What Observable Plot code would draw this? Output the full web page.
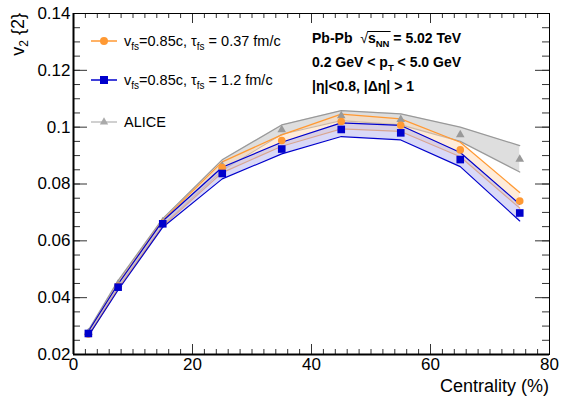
<!DOCTYPE html>
<html><head><meta charset="utf-8">
<script src="https://cdn.jsdelivr.net/npm/d3@7"></script>
<script src="https://cdn.jsdelivr.net/npm/@observablehq/plot@0.6"></script>
<style>body{margin:0;background:#fff} svg{display:block}</style>
</head><body><div id="chart"></div>
<script>
const centrality = [2.5, 7.5, 15, 25, 35, 45, 55, 65, 75];
const alice     = [0.0277, 0.0448, 0.0667, 0.0863, 0.0991, 0.1040, 0.1027, 0.0973, 0.0887];
const aliceLow  = [0.0270, 0.0438, 0.0656, 0.0848, 0.0975, 0.1023, 0.1008, 0.0950, 0.0842];
const aliceHigh = [0.0285, 0.0460, 0.0678, 0.0885, 0.1008, 0.1058, 0.1047, 0.1000, 0.0935];
const tau037     = [0.0272, 0.0440, 0.0662, 0.0858, 0.0953, 0.1020, 0.1007, 0.0920, 0.0740];
const tau037Low  = [0.0265, 0.0432, 0.0652, 0.0840, 0.0933, 0.0994, 0.0985, 0.0896, 0.0715];
const tau037High = [0.0279, 0.0450, 0.0672, 0.0878, 0.0973, 0.1046, 0.1029, 0.0947, 0.0770];
const tau12     = [0.0274, 0.0437, 0.0660, 0.0837, 0.0923, 0.0992, 0.0980, 0.0886, 0.0698];
const tau12Low  = [0.0265, 0.0427, 0.0648, 0.0818, 0.0906, 0.0967, 0.0955, 0.0861, 0.0670];
const tau12High = [0.0282, 0.0448, 0.0670, 0.0859, 0.0947, 0.1015, 0.1006, 0.0911, 0.0729];
const yTicks = [0.02, 0.04, 0.06, 0.08, 0.1, 0.12, 0.14];
const xTicks = [0, 20, 40, 60, 80];
const yMinor = d3.range(0.02, 0.1401, 0.005);
const xMinor = d3.range(0, 80.01, 2);

const W = 563, H = 400, mL = 73, mR = 14, mT = 13, mB = 46;
const iw = W - mL - mR, ih = H - mT - mB;

const mk = (c, lo, hi) => centrality.map((x, i) => ({x, y: c[i], lo: lo[i], hi: hi[i]}));
const dA = mk(alice, aliceLow, aliceHigh);
const dO = mk(tau037, tau037Low, tau037High);
const dB = mk(tau12, tau12Low, tau12High);

const cGray = "#999999", cOr = "#ff9933", cBl = "#0000cc";
const font = "'Liberation Sans', Arial, sans-serif";

const band = (d, fill, fo, stroke) => [
  Plot.areaY(d, {x: "x", y1: "lo", y2: "hi", fill, fillOpacity: fo}),
  Plot.line(d, {x: "x", y: "lo", stroke, strokeWidth: 1.2}),
  Plot.line(d, {x: "x", y: "hi", stroke, strokeWidth: 1.2})
];

const chart = Plot.plot({
  width: W, height: H,
  marginLeft: mL, marginRight: mR, marginTop: mT, marginBottom: mB,
  style: {fontFamily: font, background: "#fff"},
  x: {domain: [0, 80]},
  y: {domain: [0.02, 0.14]},
  marks: [
    ...band(dA, "#c8c8c8", 0.6, cGray),
    ...band(dO, "#ffd9b3", 0.5, cOr),
    ...band(dB, "#b3b3f0", 0.5, cBl),
    Plot.dot(dA, {x: "x", y: "y", symbol: "triangle", r: 3.2, fill: cGray}),
    Plot.dot(dO, {x: "x", y: "y", symbol: "circle", r: 3.8, fill: cOr}),
    Plot.dot(dB, {x: "x", y: "y", symbol: "square", r: 4.3, fill: cBl}),
    // inward ticks
    Plot.tickY(yTicks, {y: d => d, insetRight: iw - 14, stroke: "#333"}),
    Plot.tickY(yTicks, {y: d => d, insetLeft: iw - 14, stroke: "#333"}),
    Plot.tickY(yMinor, {y: d => d, insetRight: iw - 7, stroke: "#333"}),
    Plot.tickY(yMinor, {y: d => d, insetLeft: iw - 7, stroke: "#333"}),
    Plot.tickX(xTicks, {x: d => d, insetTop: ih - 10, stroke: "#333"}),
    Plot.tickX(xTicks, {x: d => d, insetBottom: ih - 10, stroke: "#333"}),
    Plot.tickX(xMinor, {x: d => d, insetTop: ih - 5, stroke: "#333"}),
    Plot.tickX(xMinor, {x: d => d, insetBottom: ih - 5, stroke: "#333"}),
    Plot.frame({stroke: "#000", strokeWidth: 1}),
    Plot.axisY({ticks: yTicks, tickSize: 0, tickPadding: 3, fontSize: 17, fill: "#000",
      tickFormat: d => String(+d.toFixed(2)), label: null}),
    Plot.axisX({ticks: xTicks, tickSize: 0, tickPadding: 3, fontSize: 17, fill: "#000",
      label: null}),
    Plot.ruleX([0], {stroke: "#000", strokeWidth: 2}),
    Plot.ruleY([0.02], {stroke: "#000", strokeWidth: 2})
  ]
});

const svg = d3.select(chart);
const txt = (x, y, size) => svg.append("text").attr("x", x).attr("y", y)
  .attr("text-anchor", "start").attr("font-family", font).attr("font-size", size).attr("fill", "#000");

// axis titles
txt(W - mR, 392, 18).attr("text-anchor", "end").text("Centrality (%)");
const yt = svg.append("text").attr("transform", `translate(24,${mT}) rotate(-90)`)
  .attr("text-anchor", "end").attr("font-family", font).attr("font-size", 18).attr("fill", "#000");
yt.append("tspan").text("v");
yt.append("tspan").attr("font-size", 12).attr("dy", 4).text("2");
yt.append("tspan").attr("dy", -4).text(" {2}");

// legend
const leg = [
  {y: 41, color: cOr, sym: d3.symbolCircle, size: 50, parts: [["v"], ["fs", 1], ["=0.85c, τ"], ["fs", 1], [" = 0.37 fm/c"]]},
  {y: 80, color: cBl, sym: d3.symbolSquare, size: 64, parts: [["v"], ["fs", 1], ["=0.85c, τ"], ["fs", 1], [" = 1.2 fm/c"]]},
  {y: 122, color: "#aaaaaa", sym: d3.symbolTriangle, size: 30, parts: [["ALICE"]], lineColor: "#c0c0c0"}
];
for (const e of leg) {
  svg.append("line").attr("x1", 91).attr("x2", 117).attr("y1", e.y).attr("y2", e.y)
    .attr("stroke", e.lineColor || e.color).attr("stroke-width", 1.5);
  svg.append("path").attr("d", d3.symbol(e.sym, e.size)()).attr("transform", `translate(104,${e.y})`)
    .attr("fill", e.color);
  const t = txt(124, e.y + 5, 14.5);
  let shifted = false;
  for (const [s, sub] of e.parts) {
    const sp = t.append("tspan").text(s);
    if (sub) { sp.attr("font-size", 10).attr("dy", 4); shifted = true; }
    else if (shifted) { sp.attr("dy", -4); shifted = false; }
  }
}

// top-right annotations
const ann = [
  {y: 43, parts: [["Pb-Pb  "], ["√", "sqrt"], ["s", "over"], ["NN", "sub"], [" = 5.02 TeV"]]},
  {y: 67, parts: [["0.2 GeV < p"], ["T", "sub"], [" < 5.0 GeV"]]},
  {y: 91, parts: [["|η|<0.8, |Δη| > 1"]]}
];
for (const a of ann) {
  const t = txt(312, a.y, 14).attr("font-weight", "bold");
  let shifted = false;
  for (const [s, kind] of a.parts) {
    const sp = t.append("tspan").text(s);
    if (kind === "sub") { sp.attr("font-size", 9.5).attr("dy", 4); shifted = true; }
    else if (shifted) { sp.attr("dy", -4); shifted = false; }
    if (kind === "sqrt") sp.attr("font-weight", "normal");
  }
}
// overline for sqrt(s_NN)
document.getElementById("chart").appendChild(chart);
{
  const tNode = svg.selectAll("text").filter(function() { return this.textContent.startsWith("Pb-Pb"); }).node();
  const spans = tNode.querySelectorAll("tspan");
  const a = spans[1].getBBox(), b = spans[3].getBBox();
  svg.append("line").attr("x1", a.x + a.width - 1).attr("x2", b.x + b.width + 1)
    .attr("y1", a.y + 1.5).attr("y2", a.y + 1.5).attr("stroke", "#000").attr("stroke-width", 1);
}
</script></body></html>
